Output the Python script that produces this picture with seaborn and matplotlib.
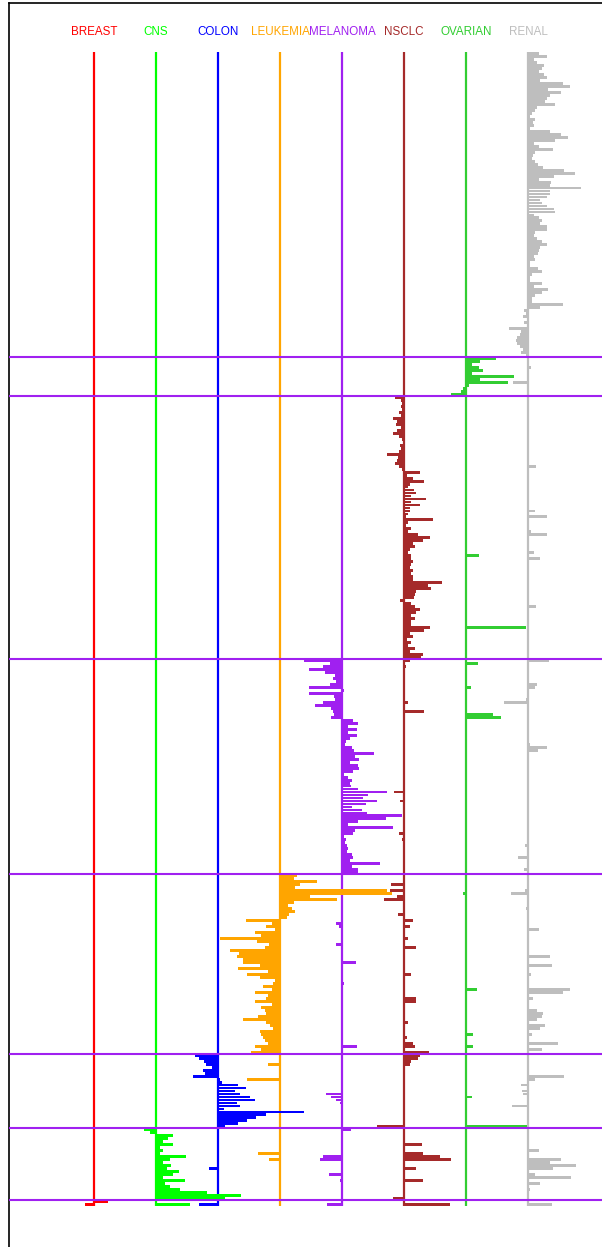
import numpy as np
import pandas as pd
import seaborn as sns
import matplotlib.pyplot as plt

# cancer types, left to right, with their colours
cancer_types = ["BREAST", "CNS", "COLON", "LEUKEMIA", "MELANOMA", "NSCLC", "OVARIAN", "RENAL"]
type_colors = ["#FF0000", "#00FF00", "#0000FF", "#FFA500", "#A020F0", "#A52A2A", "#32CD32", "#BEBEBE"]

# genes are grouped (top to bottom) by the type they mark
block_order = ["RENAL", "OVARIAN", "NSCLC", "MELANOMA", "LEUKEMIA", "COLON", "CNS", "BREAST"]

# scores of each block's genes in the block's own column
renal_block = [1.7, 3.0, 0.9, 1.5, 2.5, 2.3, 1.7, 2.5, 3.0, 2.0,
               5.6, 6.8, 3.3, 5.3, 3.6, 3.1, 2.8, 4.4, 1.5, 1.2,
               0.6, 0.4, 1.2, 0.8, 0.9, 0.4, 3.6, 5.3, 6.4, 4.4,
               0.9, 1.7, 4.0, 1.2, 0.8, 0.6, 1.2, 1.6, 2.4, 5.8,
               7.5, 4.2, 1.7, 3.7, 3.6, 8.6, 3.6, 3.5, 3.0, 1.9,
               2.3, 3.1, 4.2, 4.4, 0.9, 1.7, 2.3, 2.0, 3.1, 3.1,
               1.2, 1.0, 1.5, 2.3, 3.1, 2.0, 1.7, 1.6, 0.9, 1.1,
               0.4, 0.4, 1.6, 2.2, 0.6, 0.4, 0.4, 2.3, 0.9, 3.2,
               2.3, 1.2, 0.6, 0.6, 5.6, 2.0,
               -0.7, -0.4, -0.8, -0.2, -0.7, -0.2, -3.0, -1.2, -1.3, -1.7,
               -1.9, -1.7, -1.3, -0.8, -1.2, -0.3]
ovarian_block = [4.8, 2.2, 0.9, 2.1, 2.7, 1.0, 7.8, 2.2, 6.8, 0.5, -0.5, -0.8, -2.4]
nsclc_block = [-1.5, -0.5, -0.4, -0.5, -0.4, -0.8, -0.5, -1.8, -1.1, -1.3,
               -0.5, -1.2, -1.7, -0.8, -0.4, -0.2, -0.6, -0.5, -0.8, -2.7,
               -0.9, -1.2, -1.5, -0.8, -0.4,
               2.5, 0.5, 1.5, 3.2, 0.9, 0.7, 1.6, 2.0, 1.2, 3.5,
               1.2, 2.6, 1.0, 0.9, 0.7, 0.3, 4.6, 0.7, 0.4, 1.2,
               0.7, 2.3, 4.2, 3.1, 1.4, 1.8, 0.9, 0.7, 1.2, 1.1,
               1.5, 1.2, 0.9, 1.4, 1.1, 1.4, 1.5, 6.1, 3.9, 4.3,
               2.0, 1.8, 1.6, -0.6, 1.2, 1.8, 2.6, 1.9, 1.2, 1.8,
               1.2, 1.1, 4.2, 3.2, 0.9, 1.4, 0.5, 1.1, 0.7, 1.8,
               1.0, 3.0, 2.8]
melanoma_block = [-6.2, -2.0, -3.0, -5.3, -2.7, -1.1, -1.5, -0.9, -1.9, -5.3,
                  0.3, -5.3, -1.3, -1.1, -3.0, -4.4, -1.8, -1.5, -1.3, -1.7,
                  1.7, 2.5, 0.9, 2.4, 1.0, 2.4, 1.3, 0.6, 0.5, 1.6,
                  1.9, 5.2, 2.1, 2.8, 1.3, 2.5, 2.8, 1.8, 0.3, 1.0,
                  1.6, 1.3, 1.4, 2.5, 7.2, 4.2, 3.4, 5.6, 3.9, 1.6,
                  3.2, 4.1, 9.6, 7.1, 2.6, 1.0, 8.3, 2.1, 1.7, 0.3,
                  0.6, 0.5, 0.8, 1.0, 0.8, 1.6, 1.7, 1.3, 6.1, 1.6,
                  2.6, 2.6]
leukemia_block = [2.7, 2.2, 5.9, 3.2, 2.4, 17.2, 18.0, 4.8, 9.2, 2.2,
                  1.3, 1.9, 2.4, 1.5, 1.1,
                  -5.5, -1.3, -2.2, -0.8, -4.0, -3.0, -9.7, -3.7, -1.7, -2.4,
                  -8.0, -6.6, -6.9, -6.0, -5.9, -3.2, -6.7, -1.9, -5.4, -3.2,
                  -0.8, -1.2, -2.8, -1.3, -4.0, -1.9, -2.2, -4.0, -1.3, -3.0,
                  -2.4, -2.3, -3.5, -5.9, -2.2, -1.6, -1.1, -3.2, -3.0, -2.7,
                  -2.4, -1.9, -4.0, -3.0, -4.6]
colon_block = [-3.7, -3.0, -2.3, -1.9, -1.0, -2.5, -2.1, -4.0, 0.4, 0.6,
               3.3, 4.5, 2.7, 3.5, 5.2, 6.0, 3.0, 3.5, 0.9, 13.9,
               7.8, 6.2, 4.6, 3.3, 1.1]
cns_block = [-2.0, -0.9, 2.8, 2.0, 1.2, 2.8, 0.7, 1.1, 0.6, 4.9,
             2.2, 1.1, 2.4, 1.8, 3.7, 2.8, 1.2, 4.7, 1.4, 2.3,
             3.9, 8.3, 13.7, 11.1]
breast_block = [2.2, -1.4]

block_values = {
    "RENAL": renal_block, "OVARIAN": ovarian_block, "NSCLC": nsclc_block,
    "MELANOMA": melanoma_block, "LEUKEMIA": leukemia_block, "COLON": colon_block,
    "CNS": cns_block, "BREAST": breast_block,
}

# scores outside a type's own block: (gene row, score)
cross_bars = {
    "BREAST": [],
    "CNS": [(385, 5.5)],
    "COLON": [(373, -1.4), (385, -3.1)],
    "LEUKEMIA": [(338, -1.9), (343, -5.3), (368, -3.6), (370, -1.8)],
    "MELANOMA": [(291, -0.9), (292, -0.5), (298, -1.0), (304, 2.2), (311, 0.4),
                 (332, 2.4), (348, -2.6), (349, -1.7), (350, -0.9), (351, -0.4),
                 (360, 1.4), (369, -3.0), (370, -3.5), (375, -2.1), (377, -0.4),
                 (385, -2.5)],
    "NSCLC": [(203, 0.9), (205, 0.4), (217, 0.6), (220, 3.2), (247, -1.6),
              (250, -0.6), (261, -0.8), (263, -0.4), (278, -2.1), (280, -2.2),
              (282, -1.2), (283, -3.3), (288, -0.9), (290, 1.5), (292, 0.9),
              (296, 0.7), (299, 2.0), (308, 1.1), (316, 2.0), (317, 1.9),
              (324, 0.7), (329, 0.5), (331, 1.4), (332, 1.8), (334, 4.1),
              (335, 2.6), (336, 2.2), (337, 1.2), (338, 0.9), (359, -4.3),
              (365, 2.9), (368, 3.0), (369, 5.8), (370, 7.5), (373, 2.0),
              (377, 3.0), (383, -1.8), (385, 7.4)],
    "OVARIAN": [(168, 2.1), (192, 9.7), (204, 1.9), (212, 0.8), (221, 4.3),
                (222, 5.6), (281, -0.5), (313, 1.8), (328, 1.2), (332, 1.1),
                (349, 0.9), (359, 9.8)],
    "RENAL": [(105, 0.5), (110, -2.5), (121, -0.2), (138, 1.3), (153, 1.2),
              (155, 3.0), (160, 0.5), (161, 3.0), (167, 1.0), (169, 2.0),
              (185, 1.3), (203, 3.4), (211, 1.5), (212, 1.1), (216, -0.4),
              (217, -3.8), (231, 0.3), (232, 3.0), (233, 1.6), (265, -0.5),
              (269, -1.6), (273, -0.7), (280, -0.5), (281, -2.7), (286, -0.4),
              (293, 1.8), (302, 3.5), (305, 3.9), (308, 0.5), (313, 6.8),
              (314, 5.6), (316, 0.8), (320, 1.5), (321, 2.4), (322, 2.2),
              (323, 1.4), (325, 2.7), (326, 1.9), (328, 0.7), (331, 4.8),
              (333, 2.3), (342, 5.8), (343, 1.2), (345, -1.1), (347, -1.0),
              (348, -0.8), (352, -2.6), (354, -0.2), (367, 1.7), (370, 5.3),
              (371, 3.6), (372, 7.8), (373, 4.0), (375, 1.1), (376, 6.9),
              (378, 1.9), (380, 0.3), (385, 3.9)],
}

sep_color = "#A020F0"
col_step = 10      # score units between neighbouring type columns
px_per_unit = 6.2  # horizontal pixels per score unit
px_per_row = 2.99  # vertical pixels per gene row

sns.set_theme(style="white")
plt.rcParams["font.family"] = ["Liberation Sans", "DejaVu Sans"]

fig = plt.figure(figsize=(6.02, 12.47), dpi=100)
ax = fig.add_axes([9 / 602, 0, 593 / 602, 1244 / 1247])

block_sizes = [len(block_values[t]) for t in block_order]
block_starts = np.concatenate([[0], np.cumsum(block_sizes)])
n_genes = block_starts[-1]

for k, (name, color) in enumerate(zip(cancer_types, type_colors)):
    start = block_starts[block_order.index(name)]
    home = block_values[name]
    rows = list(range(start, start + len(home))) + [r for r, _ in cross_bars[name]]
    scores = list(home) + [s for _, s in cross_bars[name]]
    df = pd.DataFrame({"row": np.array(rows) + 0.5, "score": scores})
    x0 = k * col_step
    ax.vlines(x0, 0, n_genes, color=color, lw=1.6, zorder=1)
    sns.barplot(data=df, x="score", y="row", orient="y", native_scale=True,
                color=color, saturation=1, errorbar=None, width=0.97,
                left=x0, linewidth=0, zorder=2, ax=ax)
    ax.text(x0, -20 / px_per_row, name, color=color, ha="center", va="center",
            fontsize=8.4)

# separators between gene blocks
for b in block_starts[1:-1]:
    ax.axhline(b, color=sep_color, lw=1.5, zorder=3)

ax.set_xlim(-85 / px_per_unit, 508 / px_per_unit)
ax.set_ylim(1195 / px_per_row, -49 / px_per_row)
ax.set_xticks([])
ax.set_yticks([])
ax.set_xlabel("")
ax.set_ylabel("")
ax.spines["right"].set_visible(False)
ax.spines["bottom"].set_visible(False)
for side in ["left", "top"]:
    ax.spines[side].set_color("black")
    ax.spines[side].set_linewidth(1.2)

fig.savefig("out.png", dpi=100)
plt.close(fig)
